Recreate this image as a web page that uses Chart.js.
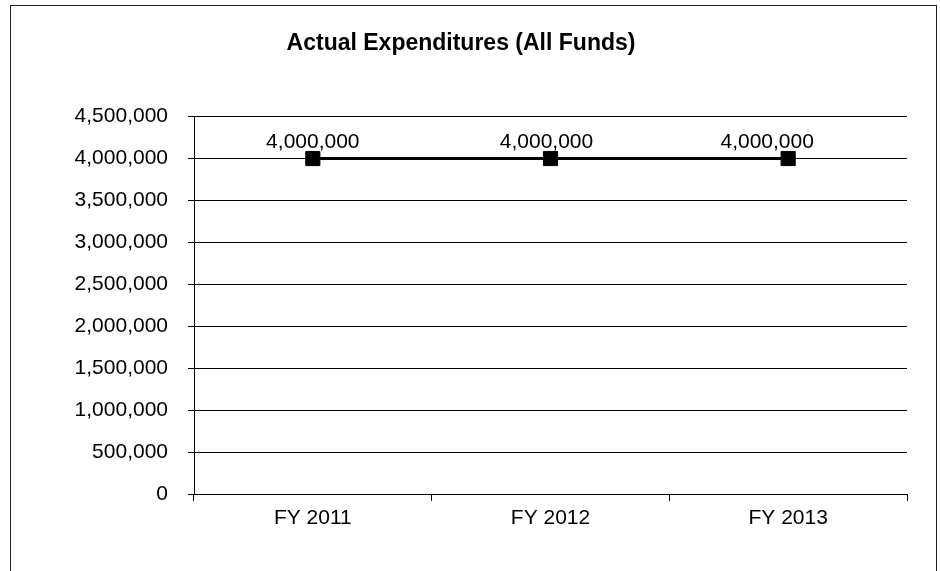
<!DOCTYPE html>
<html lang="en">
<head>
    <meta charset="UTF-8">
    <title>Actual Expenditures (All Funds)</title>
    <script src="https://cdn.jsdelivr.net/npm/chart.js"></script>
    <style>
        html, body { margin: 0; padding: 0; background: #fff; overflow: hidden; }
        #frame {
            position: absolute; left: 10px; top: 5px;
            width: 925px; height: 600px;
            border: 1px solid #222;
        }
        #chart { position: absolute; left: 0; top: 0; }
    </style>
</head>
<body>
<div id="frame"></div>
<canvas id="chart" width="940" height="571"></canvas>

<script>
    const years = ['FY 2011', 'FY 2012', 'FY 2013'];
    const expenditures = [4000000, 4000000, 4000000];
    const yTicks = [0, 500000, 1000000, 1500000, 2000000, 2500000, 3000000, 3500000, 4000000, 4500000];

    const fmt = v => v.toLocaleString('en-US');

    // value labels above the markers (Excel nudges the last one left)
    const valueLabels = {
        id: 'valueLabels',
        afterDatasetsDraw(chart, args, opts) {
            const ctx = chart.ctx;
            const pts = chart.getDatasetMeta(0).data;
            ctx.save();
            ctx.font = '21px "Liberation Sans", Arial, sans-serif';
            ctx.fillStyle = '#000';
            ctx.textAlign = 'center';
            ctx.textBaseline = 'middle';
            pts.forEach((p, i) => {
                const dx = opts.shift[i] || 0;
                ctx.fillText(fmt(chart.data.datasets[0].data[i]), p.x + dx, p.y - 16);
            });
            ctx.restore();
        }
    };

    new Chart(document.getElementById('chart'), {
        type: 'line',
        data: {
            labels: years,
            datasets: [{
                data: expenditures,
                borderColor: '#000',
                borderWidth: 3,
                pointStyle: 'rect',
                pointRadius: 10,
                pointBackgroundColor: '#000',
                pointBorderColor: '#000',
                pointBorderWidth: 1,
                tension: 0
            }]
        },
        options: {
            responsive: false,
            animation: false,
            layout: { padding: { left: 15, right: 33, top: 0, bottom: 0 } },
            plugins: {
                legend: { display: false },
                tooltip: { enabled: false },
                title: {
                    display: true,
                    text: 'Actual Expenditures (All Funds)',
                    color: '#000',
                    font: { family: '"Liberation Sans", Arial, sans-serif', size: 23, weight: 'bold', lineHeight: 1.2 },
                    padding: { top: 30, bottom: 59 }
                },
                valueLabels: { shift: [0, -4, -21] }
            },
            scales: {
                x: {
                    offset: true,
                    afterFit(s) { s.height = 77; },
                    grid: {
                        offset: true,
                        drawOnChartArea: false,
                        drawTicks: true,
                        tickLength: 7,
                        color: '#000'
                    },
                    border: { display: false },
                    ticks: {
                        color: '#000',
                        padding: 5,
                        font: { family: '"Liberation Sans", Arial, sans-serif', size: 21 }
                    }
                },
                y: {
                    min: 0,
                    max: 4500000,
                    afterFit(s) { s.width = 179; },
                    afterBuildTicks(s) { s.ticks = yTicks.map(v => ({ value: v })); },
                    grid: {
                        color: '#000',
                        lineWidth: 1,
                        tickLength: 6
                    },
                    border: { display: true, color: '#000', width: 1 },
                    ticks: {
                        color: '#000',
                        padding: 20,
                        font: { family: '"Liberation Sans", Arial, sans-serif', size: 21 },
                        callback: v => fmt(v)
                    }
                }
            }
        },
        plugins: [valueLabels]
    });
</script>
</body>
</html>
